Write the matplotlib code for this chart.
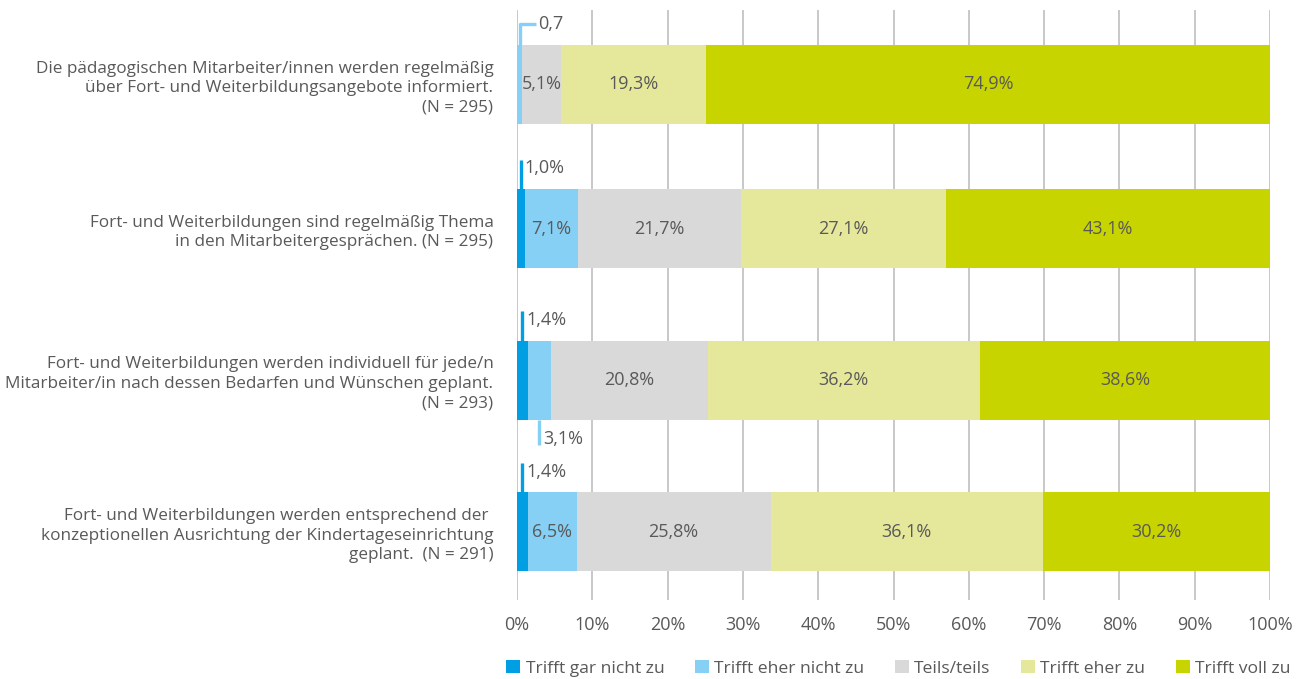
import matplotlib.pyplot as plt
from matplotlib.patches import Patch

plt.rcParams['font.family'] = ['Open Sans', 'DejaVu Sans']

# Kategorien (von oben nach unten)
aussagen = [
    "Die pädagogischen Mitarbeiter/innen werden regelmäßig\nüber Fort- und Weiterbildungsangebote informiert.\n(N = 295)",
    "Fort- und Weiterbildungen sind regelmäßig Thema\nin den Mitarbeitergesprächen. (N = 295)",
    "Fort- und Weiterbildungen werden individuell für jede/n\nMitarbeiter/in nach dessen Bedarfen und Wünschen geplant.\n(N = 293)",
    "Fort- und Weiterbildungen werden entsprechend der \nkonzeptionellen Ausrichtung der Kindertageseinrichtung\ngeplant.  (N = 291)",
]

antworten = ["Trifft gar nicht zu", "Trifft eher nicht zu", "Teils/teils",
             "Trifft eher zu", "Trifft voll zu"]

gar_nicht = [0.0, 1.0, 1.4, 1.4]
eher_nicht = [0.7, 7.1, 3.1, 6.5]
teils = [5.1, 21.7, 20.8, 25.8]
eher_zu = [19.3, 27.1, 36.2, 36.1]
voll_zu = [74.9, 43.1, 38.6, 30.2]

werte = [gar_nicht, eher_nicht, teils, eher_zu, voll_zu]
farben = ["#009fe3", "#86cff5", "#d9d9d9", "#e5e89b", "#c8d400"]
textfarbe = "#595959"

ticks = [0, 10, 20, 30, 40, 50, 60, 70, 80, 90, 100]
tick_labels = [f"{t}%" for t in ticks]

fs_text = 12.3
fs_zahl = 13

fig = plt.figure(figsize=(13.08, 6.79), dpi=100)
ax = fig.add_axes([0.3953, 0.116, 0.5757, 0.869])

hoehe = 0.53
y = [0.0, 0.97, 1.99, 3.01]
links = [0.0] * len(aussagen)


def fmt(v):
    return f"{v:.1f}".replace(".", ",") + "%"


for k, reihe in enumerate(werte):
    ax.barh(y, reihe, left=links, height=hoehe, color=farben[k], zorder=2)
    for i, v in enumerate(reihe):
        mitte = links[i] + v / 2
        # kleine Segmente bekommen eine Beschriftung außerhalb des Balkens
        if k == 0 and v > 0:
            y0 = y[i] - hoehe / 2
            ax.plot([mitte, mitte], [y0, y0 - 0.2], color=farben[k], lw=2.4,
                    solid_capstyle='butt', zorder=3)
            ax.text(mitte + 0.5, y0 - 0.14, fmt(v), ha='left', va='center',
                    fontsize=fs_zahl, color=textfarbe)
        elif k == 1 and v < 2:
            y0 = y[i] - hoehe / 2
            yt = y0 - 0.14
            ax.plot([mitte, mitte, mitte + 2.1], [y0, yt, yt], color=farben[k],
                    lw=2.4, solid_capstyle='butt', zorder=3)
            ax.text(mitte + 2.4, yt, f"{v:.1f}".replace(".", ","), ha='left',
                    va='center', fontsize=fs_zahl, color=textfarbe)
        elif k == 1 and v < 4:
            y0 = y[i] + hoehe / 2
            ax.plot([mitte, mitte], [y0, y0 + 0.17], color=farben[k], lw=2.4,
                    solid_capstyle='butt', zorder=3)
            ax.text(mitte + 0.5, y0 + 0.13, fmt(v), ha='left', va='center',
                    fontsize=fs_zahl, color=textfarbe)
        elif v > 0:
            ax.text(mitte, y[i], fmt(v), ha='center', va='center',
                    fontsize=fs_zahl, color=textfarbe, zorder=4)
        links[i] += v

ax.set_xlim(0, 100)
ax.set_ylim(3.47, -0.5)
ax.set_xticks(ticks)
ax.set_xticklabels(tick_labels, fontsize=fs_zahl, color=textfarbe)
ax.set_yticks(y)
ax.set_yticklabels(aussagen, fontsize=fs_text, color=textfarbe, linespacing=1.3)
ax.tick_params(axis='both', length=0)
ax.tick_params(axis='x', pad=11)
ax.tick_params(axis='y', pad=17)
ax.grid(axis='x', color="#bfbfbf", lw=1.2, zorder=0)
for s in ax.spines.values():
    s.set_visible(False)

handles = [Patch(facecolor=f, edgecolor='none') for f in farben]
fig.legend(handles, antworten, loc='lower center', bbox_to_anchor=(0.687, -0.02),
           ncol=5, frameon=False, fontsize=12.6, handlelength=0.8,
           handleheight=0.8, handletextpad=0.3, columnspacing=1.75,
           labelcolor=textfarbe)

fig.savefig("out.png", dpi=100)
